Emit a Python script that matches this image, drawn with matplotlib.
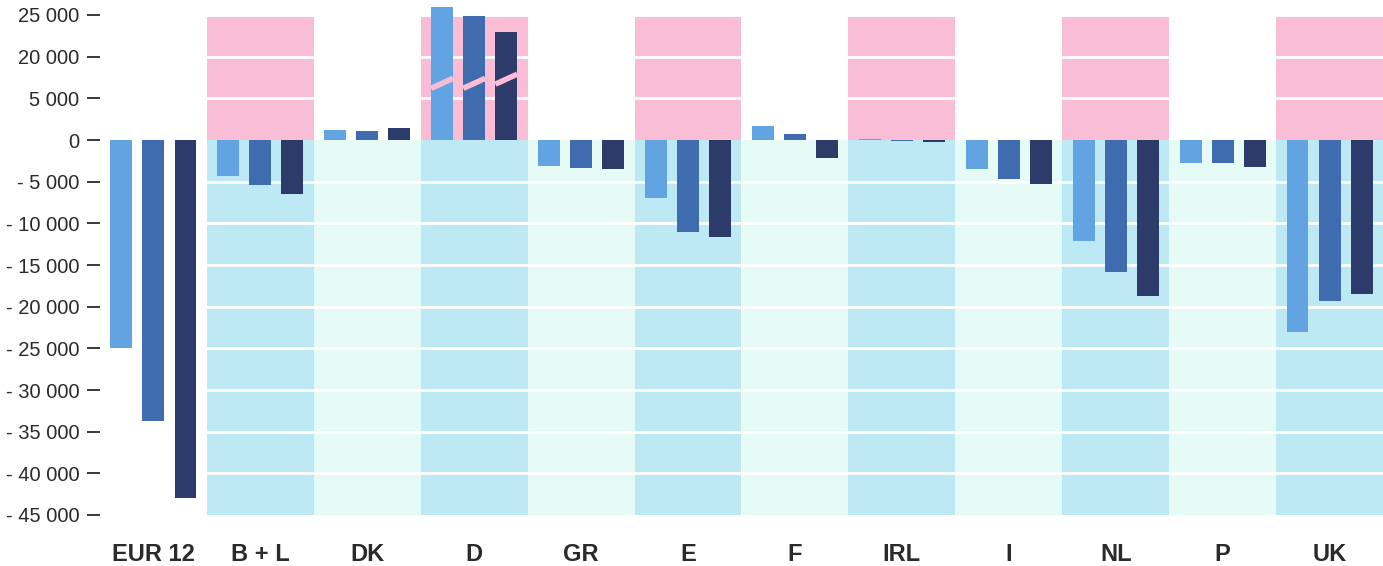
import matplotlib.pyplot as plt
import numpy as np

plt.rcParams['font.family'] = ['Liberation Sans', 'DejaVu Sans']

countries = ["EUR 12", "B + L", "DK", "D", "GR", "E", "F", "IRL", "I", "NL", "P", "UK"]

series_1 = [-25000, -4300, 1200, 26000, -3100, -7000, 1700, 150, -3500, -12100, -2800, -23000]
series_2 = [-33700, -5400, 1100, 24900, -3300, -11000, 700, -150, -4700, -15800, -2700, -19300]
series_3 = [-43000, -6500, 1400, 23000, -3500, -11600, -2200, -250, -5300, -18700, -3200, -18500]

tick_values = [25000, 20000, 5000, 0, -5000, -10000, -15000, -20000, -25000,
               -30000, -35000, -40000, -45000]

BREAK_LOW = 5000
BREAK_HIGH = 20000


def squash(v):
    # BROKEN AXIS: EVERYTHING ABOVE 20 000 IS MOVED DOWN SO 20 000 SITS ONE STEP ABOVE 5 000
    v = np.asarray(v, dtype=float)
    gap = BREAK_HIGH - BREAK_LOW - 5000
    return np.where(v >= BREAK_HIGH, v - gap, v)


def fmt(v):
    s = f"{abs(v):,}".replace(",", " ")
    return f"- {s}" if v < 0 else s


colors = ["#62a4e2", "#3f6cae", "#2d3b6a"]
pink = "#f9bdd6"
blue_band = "#bde9f5"
mint_band = "#e6fbf6"
text_color = "#2a2a2a"

fig = plt.figure(figsize=(13.83, 5.66), dpi=100)
ax = fig.add_axes([100 / 1383, 1 - 515 / 566, 1 - 100 / 1383, 515 / 566])

x = np.arange(len(countries))
top = float(squash(25000)) - 250
bottom = -45000

# BACKGROUND BANDS, ALTERNATING
for i in x:
    if i == 0:
        continue
    if i % 2 == 1:
        ax.bar(i, top, width=1.0, bottom=0, color=pink, zorder=0)
        ax.bar(i, bottom, width=1.0, bottom=0, color=blue_band, zorder=0)
    else:
        ax.bar(i, bottom, width=1.0, bottom=0, color=mint_band, zorder=0)

# WHITE GRID LINES ACROSS THE BANDS
for t in tick_values:
    if t in (0, 25000, -45000):
        continue
    ax.axhline(float(squash(t)), color="white", linewidth=2, zorder=1)

offset = 0.30
bw = 0.205
for k, vals in enumerate([series_1, series_2, series_3]):
    ax.bar(x + (k - 1) * offset, squash(vals), width=bw, color=colors[k], zorder=2)

# BREAK MARKS ON THE D BARS
d = countries.index("D")
for k in range(3):
    cx = d + (k - 1) * offset
    lift = 500 if k == 2 else 0
    ax.plot([cx - bw / 2, cx + bw / 2], [6200 + lift, 7400 + lift],
            color=pink, linewidth=4, solid_capstyle="butt", zorder=3)

ax.set_xlim(-0.5, 11.5)
ax.set_ylim(bottom, 16800)

ax.set_yticks(squash(tick_values))
ax.set_yticklabels([fmt(v) for v in tick_values])
ax.tick_params(axis='y', length=9.5, width=1.3, pad=5.5, colors=text_color, labelsize=14.5)

ax.set_xticks(x)
ax.set_xticklabels(countries, fontweight="bold", fontsize=17)
ax.tick_params(axis='x', length=0, pad=20, colors=text_color)

for s in ['top', 'right', 'bottom', 'left']:
    ax.spines[s].set_visible(False)

plt.savefig("out.png", dpi=100)
plt.close()
